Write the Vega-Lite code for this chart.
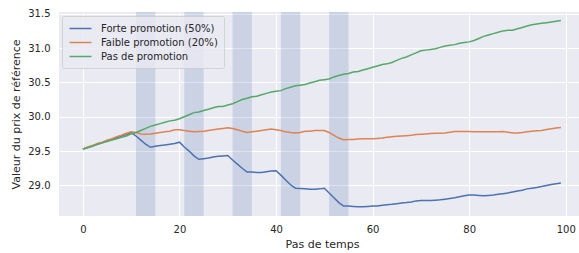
{
  "$schema": "https://vega.github.io/schema/vega-lite/v6.json",
  "width": 520,
  "height": 204,
  "autosize": {"type": "none"},
  "padding": {"left": 59, "top": 12, "right": 0, "bottom": 37},
  "background": "white",
  "config": {
    "view": {"fill": "#EAEAF2", "stroke": null},
    "font": "DejaVu Sans",
    "axis": {
      "domain": false,
      "ticks": false,
      "gridColor": "white",
      "gridWidth": 1,
      "labelFont": "DejaVu Sans",
      "labelFontSize": 10,
      "labelColor": "#262626",
      "titleFont": "DejaVu Sans",
      "titleFontSize": 11,
      "titleFontWeight": "normal",
      "titleColor": "#262626"
    },
    "legend": {
      "labelFont": "DejaVu Sans",
      "labelFontSize": 10,
      "labelColor": "#262626"
    }
  },
  "datasets": {
    "bands": [
      {"start": 11, "end": 15},
      {"start": 21, "end": 25},
      {"start": 31, "end": 35},
      {"start": 41, "end": 45},
      {"start": 51, "end": 55}
    ],
    "series": [
      {"t":0,"forte":29.53,"faible":29.53,"pas":29.53},
      {"t":1,"forte":29.55,"faible":29.56,"pas":29.55},
      {"t":2,"forte":29.58,"faible":29.58,"pas":29.57},
      {"t":3,"forte":29.60,"faible":29.61,"pas":29.60},
      {"t":4,"forte":29.62,"faible":29.63,"pas":29.62},
      {"t":5,"forte":29.65,"faible":29.66,"pas":29.64},
      {"t":6,"forte":29.67,"faible":29.68,"pas":29.66},
      {"t":7,"forte":29.69,"faible":29.71,"pas":29.68},
      {"t":8,"forte":29.72,"faible":29.73,"pas":29.70},
      {"t":9,"forte":29.74,"faible":29.76,"pas":29.72},
      {"t":10,"forte":29.77,"faible":29.78,"pas":29.75},
      {"t":11,"forte":29.72,"faible":29.77,"pas":29.77},
      {"t":12,"forte":29.66,"faible":29.75,"pas":29.80},
      {"t":13,"forte":29.60,"faible":29.745,"pas":29.83},
      {"t":14,"forte":29.555,"faible":29.75,"pas":29.86},
      {"t":15,"forte":29.57,"faible":29.76,"pas":29.88},
      {"t":16,"forte":29.58,"faible":29.77,"pas":29.90},
      {"t":17,"forte":29.59,"faible":29.78,"pas":29.92},
      {"t":18,"forte":29.60,"faible":29.79,"pas":29.94},
      {"t":19,"forte":29.61,"faible":29.81,"pas":29.95},
      {"t":20,"forte":29.63,"faible":29.81,"pas":29.97},
      {"t":21,"forte":29.56,"faible":29.80,"pas":30.00},
      {"t":22,"forte":29.50,"faible":29.79,"pas":30.03},
      {"t":23,"forte":29.43,"faible":29.78,"pas":30.06},
      {"t":24,"forte":29.38,"faible":29.785,"pas":30.07},
      {"t":25,"forte":29.39,"faible":29.79,"pas":30.09},
      {"t":26,"forte":29.40,"faible":29.80,"pas":30.11},
      {"t":27,"forte":29.415,"faible":29.81,"pas":30.13},
      {"t":28,"forte":29.425,"faible":29.82,"pas":30.15},
      {"t":29,"forte":29.43,"faible":29.83,"pas":30.15},
      {"t":30,"forte":29.435,"faible":29.84,"pas":30.17},
      {"t":31,"forte":29.37,"faible":29.83,"pas":30.19},
      {"t":32,"forte":29.31,"faible":29.81,"pas":30.22},
      {"t":33,"forte":29.25,"faible":29.79,"pas":30.25},
      {"t":34,"forte":29.195,"faible":29.77,"pas":30.27},
      {"t":35,"forte":29.195,"faible":29.78,"pas":30.29},
      {"t":36,"forte":29.19,"faible":29.79,"pas":30.30},
      {"t":37,"forte":29.19,"faible":29.80,"pas":30.32},
      {"t":38,"forte":29.20,"faible":29.81,"pas":30.34},
      {"t":39,"forte":29.21,"faible":29.82,"pas":30.36},
      {"t":40,"forte":29.215,"faible":29.81,"pas":30.37},
      {"t":41,"forte":29.15,"faible":29.80,"pas":30.38},
      {"t":42,"forte":29.08,"faible":29.78,"pas":30.41},
      {"t":43,"forte":29.01,"faible":29.77,"pas":30.43},
      {"t":44,"forte":28.96,"faible":29.765,"pas":30.45},
      {"t":45,"forte":28.955,"faible":29.77,"pas":30.46},
      {"t":46,"forte":28.95,"faible":29.79,"pas":30.47},
      {"t":47,"forte":28.945,"faible":29.79,"pas":30.49},
      {"t":48,"forte":28.945,"faible":29.80,"pas":30.51},
      {"t":49,"forte":28.95,"faible":29.80,"pas":30.53},
      {"t":50,"forte":28.96,"faible":29.80,"pas":30.54},
      {"t":51,"forte":28.89,"faible":29.77,"pas":30.55},
      {"t":52,"forte":28.82,"faible":29.73,"pas":30.58},
      {"t":53,"forte":28.75,"faible":29.69,"pas":30.60},
      {"t":54,"forte":28.70,"faible":29.665,"pas":30.62},
      {"t":55,"forte":28.70,"faible":29.67,"pas":30.63},
      {"t":56,"forte":28.695,"faible":29.67,"pas":30.65},
      {"t":57,"forte":28.69,"faible":29.675,"pas":30.66},
      {"t":58,"forte":28.69,"faible":29.68,"pas":30.68},
      {"t":59,"forte":28.695,"faible":29.68,"pas":30.70},
      {"t":60,"forte":28.70,"faible":29.68,"pas":30.72},
      {"t":61,"forte":28.70,"faible":29.685,"pas":30.74},
      {"t":62,"forte":28.71,"faible":29.69,"pas":30.76},
      {"t":63,"forte":28.72,"faible":29.70,"pas":30.77},
      {"t":64,"forte":28.725,"faible":29.71,"pas":30.79},
      {"t":65,"forte":28.735,"faible":29.715,"pas":30.82},
      {"t":66,"forte":28.745,"faible":29.72,"pas":30.85},
      {"t":67,"forte":28.75,"faible":29.725,"pas":30.87},
      {"t":68,"forte":28.76,"faible":29.73,"pas":30.90},
      {"t":69,"forte":28.775,"faible":29.74,"pas":30.93},
      {"t":70,"forte":28.78,"faible":29.745,"pas":30.96},
      {"t":71,"forte":28.78,"faible":29.75,"pas":30.97},
      {"t":72,"forte":28.78,"faible":29.755,"pas":30.98},
      {"t":73,"forte":28.785,"faible":29.76,"pas":30.99},
      {"t":74,"forte":28.79,"faible":29.76,"pas":31.01},
      {"t":75,"forte":28.80,"faible":29.765,"pas":31.03},
      {"t":76,"forte":28.81,"faible":29.775,"pas":31.04},
      {"t":77,"forte":28.82,"faible":29.785,"pas":31.05},
      {"t":78,"forte":28.835,"faible":29.785,"pas":31.07},
      {"t":79,"forte":28.85,"faible":29.785,"pas":31.08},
      {"t":80,"forte":28.86,"faible":29.785,"pas":31.09},
      {"t":81,"forte":28.86,"faible":29.78,"pas":31.11},
      {"t":82,"forte":28.855,"faible":29.78,"pas":31.14},
      {"t":83,"forte":28.85,"faible":29.78,"pas":31.17},
      {"t":84,"forte":28.855,"faible":29.78,"pas":31.19},
      {"t":85,"forte":28.86,"faible":29.78,"pas":31.21},
      {"t":86,"forte":28.87,"faible":29.78,"pas":31.23},
      {"t":87,"forte":28.88,"faible":29.785,"pas":31.25},
      {"t":88,"forte":28.89,"faible":29.775,"pas":31.26},
      {"t":89,"forte":28.905,"faible":29.765,"pas":31.26},
      {"t":90,"forte":28.92,"faible":29.765,"pas":31.28},
      {"t":91,"forte":28.93,"faible":29.77,"pas":31.30},
      {"t":92,"forte":28.95,"faible":29.78,"pas":31.32},
      {"t":93,"forte":28.96,"faible":29.79,"pas":31.34},
      {"t":94,"forte":28.97,"faible":29.795,"pas":31.35},
      {"t":95,"forte":28.985,"faible":29.80,"pas":31.36},
      {"t":96,"forte":29.00,"faible":29.815,"pas":31.37},
      {"t":97,"forte":29.015,"faible":29.825,"pas":31.38},
      {"t":98,"forte":29.025,"faible":29.835,"pas":31.39},
      {"t":99,"forte":29.035,"faible":29.845,"pas":31.40}
    ]
  },
  "layer": [
    {
      "data": {"name": "bands"},
      "mark": {"type": "rect", "color": "#4C72B0", "opacity": 0.2},
      "encoding": {
        "x": {"field": "start", "type": "quantitative", "scale": {"domain": [-4.95, 102.75], "nice": false, "zero": false}},
        "x2": {"field": "end"}
      }
    },
    {
      "data": {"name": "series"},
      "transform": [
        {"fold": ["forte", "faible", "pas"], "as": ["serie", "valeur"]}
      ],
      "mark": {"type": "line", "strokeWidth": 1.5, "clip": true},
      "encoding": {
        "x": {
          "field": "t",
          "type": "quantitative",
          "scale": {"domain": [-4.95, 102.75], "nice": false, "zero": false},
          "axis": {
            "title": "Pas de temps",
            "values": [0, 20, 40, 60, 80, 100],
            "labelPadding": 8,
            "titlePadding": 4,
            "titleX": 263,
            "titleAnchor": null,
            "grid": true
          }
        },
        "y": {
          "field": "valeur",
          "type": "quantitative",
          "scale": {"domain": [28.555, 31.525], "nice": false, "zero": false},
          "axis": {
            "title": "Valeur du prix de référence",
            "values": [29.0, 29.5, 30.0, 30.5, 31.0, 31.5],
            "format": ".1f",
            "labelPadding": 9,
            "titlePadding": 6,
            "grid": true
          }
        },
        "color": {
          "field": "serie",
          "type": "nominal",
          "scale": {"domain": ["forte", "faible", "pas"], "range": ["#4C72B0", "#DD8452", "#55A868"]},
          "legend": {
            "title": null,
            "orient": "none",
            "legendX": 3,
            "legendY": 4,
            "symbolType": "M-2,0H2",
            "symbolSize": 121,
            "symbolStrokeWidth": 1.5,
            "symbolOffset": 6,
            "labelOffset": 14,
            "rowPadding": 2,
            "padding": 6,
            "fillColor": "rgba(234,234,242,0.8)",
            "strokeColor": "rgba(204,204,204,0.8)",
            "cornerRadius": 2,
            "labelExpr": "datum.label == 'forte' ? 'Forte promotion (50%)' : datum.label == 'faible' ? 'Faible promotion (20%)' : 'Pas de promotion'"
          }
        }
      }
    }
  ]
}
